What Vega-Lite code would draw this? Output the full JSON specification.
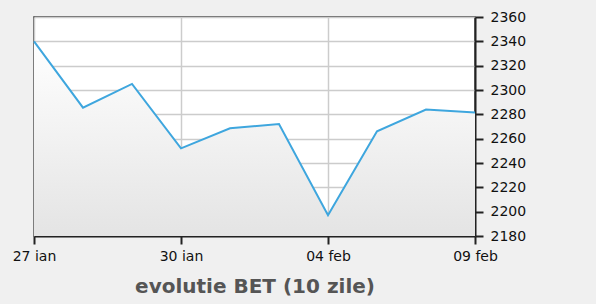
{
  "$schema": "https://vega.github.io/schema/vega-lite/v6.json",
  "width": 441,
  "height": 219,
  "autosize": {"type": "none"},
  "padding": {"left": 34, "top": 17, "right": 121, "bottom": 68},
  "background": "#f0f0f0",
  "config": {
    "view": {"fill": "white", "stroke": "#333", "strokeWidth": 1.5},
    "font": "DejaVu Sans"
  },
  "data": {
    "values": [
      {"zi": "27 ian", "bet": 2340},
      {"zi": "28 ian", "bet": 2285.5},
      {"zi": "29 ian", "bet": 2305},
      {"zi": "30 ian", "bet": 2252},
      {"zi": "02 feb", "bet": 2268.5},
      {"zi": "03 feb", "bet": 2272},
      {"zi": "04 feb", "bet": 2197},
      {"zi": "05 feb", "bet": 2266},
      {"zi": "06 feb", "bet": 2284},
      {"zi": "09 feb", "bet": 2281.5}
    ]
  },
  "encoding": {
    "x": {
      "field": "zi",
      "type": "ordinal",
      "sort": null,
      "scale": {"type": "point", "padding": 0},
      "axis": {
        "values": ["27 ian", "30 ian", "04 feb", "09 feb"],
        "labelAngle": 0,
        "labelFontSize": 14,
        "labelColor": "#111",
        "labelPadding": 5,
        "tickSize": 8,
        "tickColor": "#222",
        "tickWidth": 2,
        "domainColor": "#222",
        "domainWidth": 2,
        "grid": true,
        "gridColor": "#cccccc",
        "gridWidth": 1.5,
        "title": "evolutie BET (10 zile)",
        "titleFontSize": 20,
        "titleFontWeight": "bold",
        "titleColor": "#555",
        "titlePadding": 13
      }
    },
    "y": {
      "field": "bet",
      "type": "quantitative",
      "scale": {"domain": [2180, 2360], "zero": false, "nice": false},
      "axis": {
        "orient": "right",
        "values": [2180, 2200, 2220, 2240, 2260, 2280, 2300, 2320, 2340, 2360],
        "format": "d",
        "labelFontSize": 14,
        "labelColor": "#111",
        "labelPadding": 7,
        "tickSize": 8,
        "tickColor": "#222",
        "tickWidth": 2,
        "domainColor": "#222",
        "domainWidth": 2,
        "gridColor": "#cccccc",
        "gridWidth": 1.5,
        "title": null
      }
    }
  },
  "layer": [
    {
      "mark": {
        "type": "area",
        "color": {
          "gradient": "linear",
          "x1": 0, "y1": 0, "x2": 0, "y2": 1,
          "stops": [
            {"offset": 0, "color": "#ffffff"},
            {"offset": 1, "color": "#e4e4e4"}
          ]
        }
      },
      "encoding": {"y2": {"datum": 2180}}
    },
    {
      "mark": {"type": "line", "color": "#3ea6de", "strokeWidth": 2}
    }
  ]
}
